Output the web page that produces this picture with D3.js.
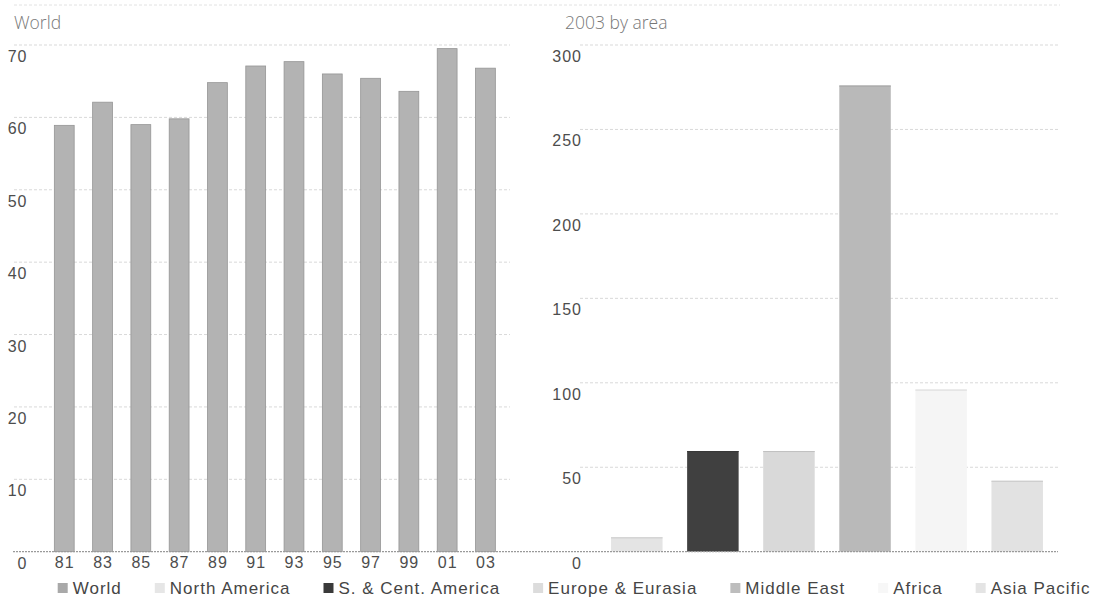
<!DOCTYPE html>
<html>
<head>
<meta charset="utf-8">
<script src="https://cdn.jsdelivr.net/npm/d3@7"></script>
<style>
  html, body { margin: 0; padding: 0; background: #fff; }
  svg { display: block; }
  .tick-label { font-family: "Liberation Sans", Arial, sans-serif; font-size: 16px; fill: #4d4d4d; letter-spacing: 1px; }
  .legend-label { font-family: "Liberation Sans", Arial, sans-serif; font-size: 17px; fill: #454545; letter-spacing: 1px; }
  .panel-title { font-family: "Open Sans", "DejaVu Sans", sans-serif; font-weight: 300; font-size: 17.5px; fill: #777; }
</style>
</head>
<body>
<svg id="chart" width="1102" height="599"></svg>
<script>
// Reserves-to-production ratio (years)
const years = ["81", "83", "85", "87", "89", "91", "93", "95", "97", "99", "01", "03"];
const worldRatio = [58.9, 62.1, 59.0, 59.8, 64.8, 67.1, 67.7, 66.0, 65.4, 63.6, 69.5, 66.8];

const areas = ["North America", "S. & Cent. America", "Europe & Eurasia", "Middle East", "Africa", "Asia Pacific"];
const areaRatio2003 = [8.5, 59.6, 59.6, 276, 96, 42];

const worldTicks = [0, 10, 20, 30, 40, 50, 60, 70];
const areaTicks = [0, 50, 100, 150, 200, 250, 300];

const legendNames = ["World"].concat(areas);

// Fills per series: World first, then each area in order
const worldFill = "#b3b3b3";
const areaFills = ["#e4e4e4", "#404040", "#d9d9d9", "#b9b9b9", "#f5f5f5", "#e2e2e2"];
const legendFills = ["#a9a9a9", "#e6e6e6", "#3a3a3a", "#dcdcdc", "#bdbdbd", "#f7f7f7", "#e4e4e4"];

const svg = d3.select("#chart");
svg.append("rect").attr("width", 1102).attr("height", 599).attr("fill", "#fff");

const baseY = 551.7, topY = 45;

// Scales
const xWorld = d3.scaleBand().domain(years).range([35.2, 514.5]).paddingInner(0.482).paddingOuter(0.5);
const yWorld = d3.scaleLinear().domain([0, 70]).range([baseY, topY]);
const xArea = d3.scaleBand().domain(areas).range([573, 1081]).paddingInner(0.323).paddingOuter(0.5);
const yArea = d3.scaleLinear().domain([0, 300]).range([baseY, topY]);

// Faint rule across the top
svg.append("line")
  .attr("x1", 14).attr("x2", 1060).attr("y1", 5).attr("y2", 5)
  .attr("stroke", "#e2e2e2").attr("stroke-width", 1).attr("stroke-dasharray", "3,2");

// Gridlines
const grid = svg.append("g").attr("stroke", "#d9d9d9").attr("stroke-width", 1).attr("stroke-dasharray", "3,2");
grid.selectAll(".gw").data(worldTicks.filter(t => t > 0)).join("line")
  .attr("x1", 14).attr("x2", 510)
  .attr("y1", d => yWorld(d)).attr("y2", d => yWorld(d));
grid.selectAll(".ga").data(areaTicks.filter(t => t > 0)).join("line")
  .attr("x1", 580).attr("x2", 1058)
  .attr("y1", d => yArea(d)).attr("y2", d => yArea(d));

// World bars
svg.append("g").selectAll("rect").data(years).join("rect")
  .attr("x", (d) => xWorld(d))
  .attr("y", (d, i) => yWorld(worldRatio[i]))
  .attr("width", xWorld.bandwidth())
  .attr("height", (d, i) => baseY - yWorld(worldRatio[i]))
  .attr("fill", worldFill)
  .attr("stroke", "#959595").attr("stroke-width", 0.8);

// 2003 bars by area
svg.append("g").selectAll("rect").data(areas).join("rect")
  .attr("x", d => xArea(d))
  .attr("y", (d, i) => yArea(areaRatio2003[i]))
  .attr("width", xArea.bandwidth())
  .attr("height", (d, i) => baseY - yArea(areaRatio2003[i]))
  .attr("fill", (d, i) => areaFills[i]);

// Darker top edge on the area bars
svg.append("g").selectAll("line").data(areas).join("line")
  .attr("x1", d => xArea(d)).attr("x2", d => xArea(d) + xArea.bandwidth())
  .attr("y1", (d, i) => yArea(areaRatio2003[i]) + 0.5)
  .attr("y2", (d, i) => yArea(areaRatio2003[i]) + 0.5)
  .attr("stroke", (d, i) => d3.color(areaFills[i]).darker(0.35))
  .attr("stroke-width", 1);

// Shared baseline
svg.append("line")
  .attr("x1", 13).attr("x2", 1058).attr("y1", baseY).attr("y2", baseY)
  .attr("stroke", "#9a9a9a").attr("stroke-width", 1.2).attr("stroke-dasharray", "2,1");

// Y tick labels
svg.append("g").selectAll("text").data(worldTicks).join("text")
  .attr("class", "tick-label")
  .attr("x", 27.5).attr("y", d => yWorld(d) + 17)
  .attr("text-anchor", "end")
  .text(d => d);
svg.append("g").selectAll("text").data(areaTicks).join("text")
  .attr("class", "tick-label")
  .attr("x", 582).attr("y", d => yArea(d) + 17)
  .attr("text-anchor", "end")
  .text(d => d);

// Year labels
svg.append("g").selectAll("text").data(years).join("text")
  .attr("class", "tick-label")
  .attr("x", d => xWorld(d) + xWorld.bandwidth() / 2 + 0.5)
  .attr("y", 568)
  .attr("text-anchor", "middle")
  .text(d => d);

// Panel titles
svg.append("text").attr("class", "panel-title").attr("x", 14).attr("y", 29).text("World");
svg.append("text").attr("class", "panel-title").attr("x", 565).attr("y", 29).text("2003 by area");

// Legend laid out left to right
const legend = svg.append("g");
let lx = 72.7;
legendNames.forEach((name, i) => {
  legend.append("rect")
    .attr("x", lx - 15).attr("y", 583).attr("width", 10).attr("height", 10)
    .attr("fill", legendFills[i]);
  const t = legend.append("text")
    .attr("class", "legend-label")
    .attr("x", lx).attr("y", 594)
    .text(name);
  lx += t.node().getComputedTextLength() + 48;
});
</script>
</body>
</html>
